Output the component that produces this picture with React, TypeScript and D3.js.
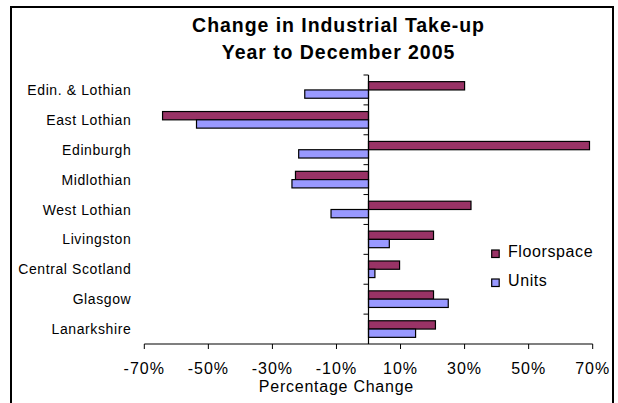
import React from "react";
import * as d3 from "d3";

const categories = [
  "Edin. & Lothian",
  "East Lothian",
  "Edinburgh",
  "Midlothian",
  "West Lothian",
  "Livingston",
  "Central Scotland",
  "Glasgow",
  "Lanarkshire",
];
const floorspace = [30, -64.3, 69, -22.8, 32, 20.3, 9.7, 20.3, 20.9];
const units = [-19.9, -53.7, -21.8, -23.9, -11.7, 6.5, 2, 24.9, 14.7];
const seriesNames = ["Floorspace", "Units"];
const seriesColors = ["#993366", "#9999FF"];
const xTicks = [-70, -50, -30, -10, 10, 30, 50, 70];
const titleLines = ["Change in Industrial Take-up", "Year to December 2005"];
const xTitle = "Percentage Change";

const W = 618;
const H = 403;
const font = "'Liberation Sans', Arial, sans-serif";

export default function App() {
  const x = d3.scaleLinear().domain([-70, 70]).range([144.3, 592.7]);
  const y = d3
    .scaleBand<string>()
    .domain(categories)
    .range([75, 344])
    .paddingInner(0.445)
    .paddingOuter(0.2225);
  const sub = d3
    .scaleBand<string>()
    .domain(seriesNames)
    .range([0, y.bandwidth()]);
  const step = y.step();
  const series = [floorspace, units];
  const x0 = x(0);

  return (
    <svg
      width={W}
      height={H}
      style={{ position: "absolute", left: 0, top: 0 }}
      fontFamily={font}
    >
      <rect x={0} y={0} width={W} height={H} fill="#fff" />
      {/* frame */}
      <path d="M11,410 V7 H613 V410" fill="none" stroke="#000" strokeWidth={2} />
      {/* title */}
      {titleLines.map((t, i) => (
        <text
          key={t}
          x={338.5}
          y={31.7 + i * 27.3}
          textAnchor="middle"
          fontSize={19.5}
          fontWeight="bold"
          letterSpacing={0.95}
        >
          {t}
        </text>
      ))}
      {/* bars */}
      {categories.map((c, ci) =>
        series.map((vals, si) => {
          const v = vals[ci];
          const yy = (y(c) as number) + (sub(seriesNames[si]) as number);
          return (
            <rect
              key={c + si}
              x={Math.min(x(v), x0)}
              y={yy}
              width={Math.abs(x(v) - x0)}
              height={sub.bandwidth()}
              fill={seriesColors[si]}
              stroke="#000"
              strokeWidth={1.2}
            />
          );
        })
      )}
      {/* y axis */}
      <line x1={x0} x2={x0} y1={75} y2={344} stroke="#000" strokeWidth={1.2} />
      {d3.range(categories.length).map((i) => (
        <line
          key={"yt" + i}
          x1={x0 - 5}
          x2={x0}
          y1={75 + i * step}
          y2={75 + i * step}
          stroke="#000"
          strokeWidth={1}
        />
      ))}
      {categories.map((c) => (
        <text
          key={"yl" + c}
          x={131.3}
          y={(y(c) as number) + y.bandwidth() / 2 + 5}
          textAnchor="end"
          fontSize={14}
          letterSpacing={0.6}
        >
          {c}
        </text>
      ))}
      {/* x axis */}
      <line x1={x(-70)} x2={x(70)} y1={344} y2={344} stroke="#000" strokeWidth={1.2} />
      {xTicks.map((t) => (
        <g key={"xt" + t}>
          <line x1={x(t)} x2={x(t)} y1={344} y2={349} stroke="#000" strokeWidth={1} />
          <text
            x={x(t)}
            y={373.5}
            textAnchor="middle"
            fontSize={16}
            letterSpacing={1}
          >
            {t}%
          </text>
        </g>
      ))}
      <text x={336.4} y={391.5} textAnchor="middle" fontSize={16} letterSpacing={0.75}>
        {xTitle}
      </text>
      {/* legend */}
      {seriesNames.map((s, i) => (
        <g key={"lg" + s}>
          <rect
            x={491.7}
            y={250 + i * 29}
            width={7.5}
            height={7.5}
            fill={seriesColors[i]}
            stroke="#000"
            strokeWidth={1.2}
          />
          <text x={508} y={257 + i * 29} fontSize={16} letterSpacing={0.6}>
            {s}
          </text>
        </g>
      ))}
    </svg>
  );
}
